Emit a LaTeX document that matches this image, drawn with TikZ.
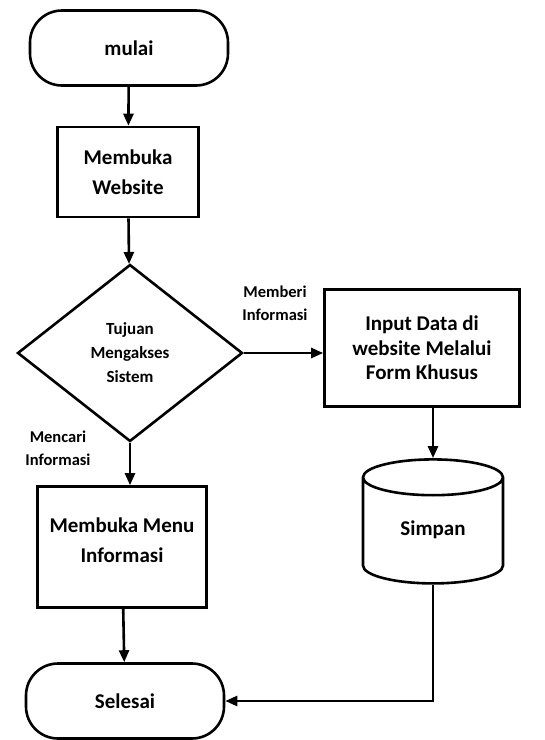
\documentclass[tikz,border=0pt]{standalone}
\usepackage{fontspec}
\setmainfont{Carlito}
\usetikzlibrary{shapes.geometric,arrows.meta,positioning}

\begin{document}
\begin{tikzpicture}[
        x=1pt, y=-1pt,
        every node/.style={font=\bfseries\fontsize{21}{30}\selectfont, align=center, inner sep=0pt},
        terminal/.style={draw, line width=2.6pt, rounded corners=32pt, minimum width=198pt, minimum height=75pt},
        process/.style={draw, line width=2.6pt},
        decision/.style={draw, diamond, line width=2.6pt, aspect=1.27, minimum width=225pt, minimum height=177pt,
            font=\bfseries\fontsize{17}{24}\selectfont},
        storage/.style={draw, cylinder, shape border rotate=90, aspect=0.55, line width=2.6pt,
            minimum width=140pt, minimum height=124pt},
        lbl/.style={font=\bfseries\fontsize{16.5}{23}\selectfont},
        flow/.style={line width=2.6pt, -{Triangle[length=12pt,width=10pt]}},
    ]
    \useasboundingbox (0,0) rectangle (545,740);

    \node[terminal](mulai) at (129,48){mulai};
    \node[process, minimum width=141pt, minimum height=90pt](web) at (128,172){Membuka\\Website};
    \node[decision](tujuan) at (130,353){Tujuan\\Mengakses\\Sistem};
    \node[process, minimum width=195pt, minimum height=117pt,
        font=\bfseries\fontsize{21}{24.5}\selectfont](input) at (422,348){Input Data di\\website Melalui\\Form Khusus};
    \node[storage](simpan) at (433,531){\raisebox{-4pt}[0pt][0pt]{Simpan}};
    \node[process, minimum width=169pt, minimum height=121pt](menu) at (122,547){Membuka Menu\\Informasi\\[-16pt]};
    \node[terminal](selesai) at (125,701){Selesai};

    \node[lbl](beri) at (275,303){Memberi\\Informasi};
    \node[lbl](cari) at (58,448){Mencari\\Informasi};

    \draw[flow] (mulai) -- (web);
    \draw[flow] (web) -- (tujuan);
    \draw[flow] (tujuan.east) -- (tujuan.east -| input.west);
    \draw[flow] (tujuan.south) -- (tujuan.south |- menu.north);
    \draw[flow] (menu) -- (selesai);
    \draw[flow] (simpan.top |- input.south) -- (simpan.top);
    \draw[flow] (simpan.bottom) |- (selesai.east);
\end{tikzpicture}
\end{document}
